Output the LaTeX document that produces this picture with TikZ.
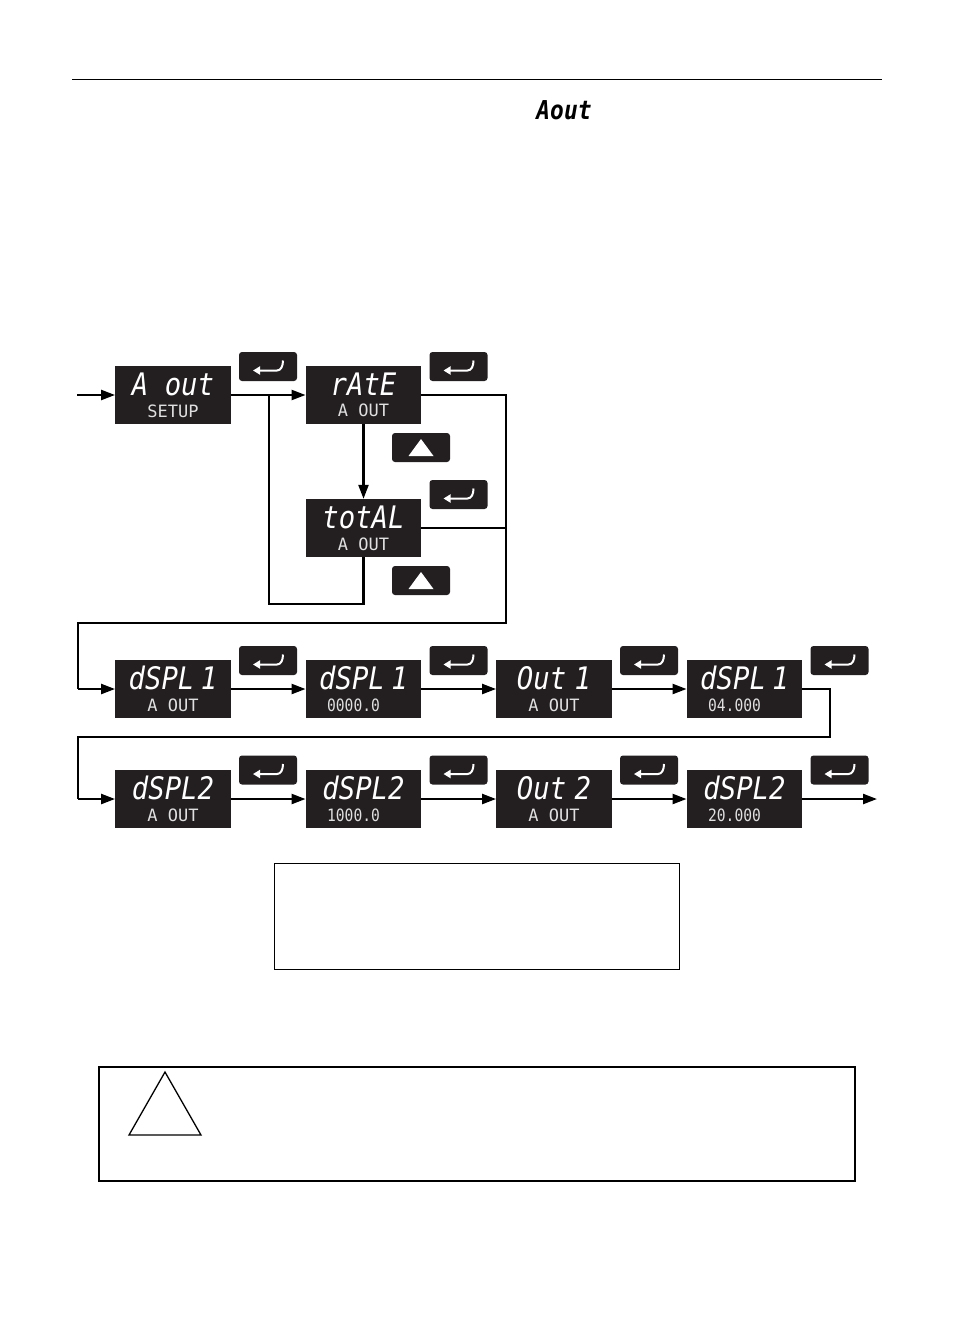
\documentclass[tikz,border=0pt]{standalone}
\usepackage{fontspec}
\usetikzlibrary{positioning,calc,arrows.meta}
\newfontfamily\segbig[FakeStretch=.88]{DejaVu Sans Mono}
\newfontfamily\segsmall[FakeStretch=1.0]{DejaVu Sans Mono}
\newfontfamily\segnum[FakeStretch=.86]{DejaVu Sans Mono}
\definecolor{panel}{HTML}{231F20}
\tikzset{
  display/.style={fill=panel,text=white,minimum width=115.5pt,minimum height=58pt,inner sep=0pt,align=center},
  keybtn/.style={fill=panel,rounded corners=3pt,minimum width=58pt,minimum height=29pt,inner sep=0pt},
  enterkey/.style={keybtn,path picture={
    \draw[sharp corners,white,line width=2pt,-{Triangle[length=7pt,width=8pt]},shift={(path picture bounding box.center)}]
      (15,-6) .. controls (15,-.5) and (13,4) .. (9,4) -- (-15,4);}},
  upkey/.style={keybtn,path picture={
    \fill[sharp corners,white,shift={(path picture bounding box.center)}] (0,-8.5) -- (12.5,8.5) -- (-12.5,8.5) -- cycle;}},
  flow/.style={line width=2.3pt},
  flowa/.style={flow,-{Triangle[length=14pt,width=10pt]}},
  thinline/.style={line width=1.5pt}
}
\newcommand{\dnode}[4]{\node [display] (#1) at (#2) {\segbig\itshape\fontsize{31}{31}\selectfont #3\\[8pt]\segsmall\color{white!88!black}\fontsize{17}{17}\selectfont #4}}
\newcommand{\enode}[2]{\node [enterkey] (#1) at (#2) {}}
\newcommand{\unode}[2]{\node [upkey] (#1) at (#2) {}}
\newcommand{\numval}[1]{{\segnum #1}\hspace*{20pt}}

\begin{document}
\begin{tikzpicture}[x=1pt,y=-1pt]
\useasboundingbox (0,0) rectangle (954,1336);

\coordinate (RULEL) at (72,79);
\coordinate (RULER) at (882,79);
\draw[line width=1pt] (RULEL) -- (RULER);
\node [inner sep=0pt] (ROUT) at (564,110) {\segbig\bfseries\itshape\fontsize{26}{26}\selectfont Aout};

% setup and source
\dnode{AOUT}{173,395}{A out}{SETUP};
\dnode{RATE}{363.5,395}{rAtE}{A OUT};
\dnode{TOTAL}{363.5,528}{totAL}{A OUT};
\enode{EA}{268,366.5};
\enode{EB}{458.5,366.5};
\enode{EC}{458.5,494.5};
\unode{UA}{421,447.5};
\unode{UB}{421,580.5};

% display 1
\dnode{DA}{173,689}{dSPL\hspace{-10pt} 1}{A OUT};
\dnode{DB}{363.5,689}{dSPL\hspace{-10pt} 1}{\numval{0000.0}};
\dnode{DC}{554,689}{Out\hspace{-8pt} 1}{A OUT};
\dnode{DD}{744.5,689}{dSPL\hspace{-10pt} 1}{\numval{04.000}};
\enode{EDA}{268,660.5};
\enode{EDB}{458.5,660.5};
\enode{EDC}{649,660.5};
\enode{EDD}{839.5,660.5};

% display 2
\dnode{FA}{173,799}{dSPL2}{A OUT};
\dnode{FB}{363.5,799}{dSPL2}{\numval{1000.0}};
\dnode{FC}{554,799}{Out\hspace{-8pt} 2}{A OUT};
\dnode{FD}{744.5,799}{dSPL2}{\numval{20.000}};
\enode{EFA}{268,770};
\enode{EFB}{458.5,770};
\enode{EFC}{649,770};
\enode{EFD}{839.5,770};

\coordinate (IN) at (77,395);
\coordinate (OUT) at (877,799);
\coordinate (JL) at (269,395);
\coordinate (JLB) at (269,604);
\coordinate (JR) at (506,395);
\coordinate (JRM) at (506,528);
\coordinate (JRB) at (506,623);
\coordinate (BA) at (78,623);
\coordinate (BB) at (830,737);
\coordinate (BC) at (78,737);

\draw[flowa] (IN) -- (AOUT);
\draw[flowa] (AOUT) -- (RATE);
\draw[flowa] (RATE) -- (TOTAL);
\draw[flow] (TOTAL.south) |- (JLB) -- (JL);
\draw[thinline] (TOTAL.east) -- (JRM);
\draw[flow,line join=miter] (RATE.east) -- (JR) -- (JRB) -- (BA) -- (BA |- DA.west);
\draw[flowa] (BA |- DA.west) -- (DA);

\draw[flowa] (DA) -- (DB);
\draw[flowa] (DB) -- (DC);
\draw[flowa] (DC) -- (DD);
\draw[flow] (DD.east) -| (BB) -- (BC) -- (BC |- FA.west);
\draw[flowa] (BC |- FA.west) -- (FA);

\draw[flowa] (FA) -- (FB);
\draw[flowa] (FB) -- (FC);
\draw[flowa] (FC) -- (FD);
\draw[flowa] (FD) -- (OUT);

% empty boxes
\node [draw,line width=1pt,minimum width=405.5pt,minimum height=106pt,inner sep=0pt] (NOTE) at (476.8,916) {};
\node [draw,line width=2.5pt,minimum width=756pt,minimum height=114pt,inner sep=0pt] (WARN) at (477,1124) {};
\coordinate (TA) at (165,1072);
\coordinate (TB) at (201,1135);
\coordinate (TC) at (129,1135);
\draw[line width=1.3pt] (TA) -- (TB) -- (TC) -- cycle;

\end{tikzpicture}
\end{document}
